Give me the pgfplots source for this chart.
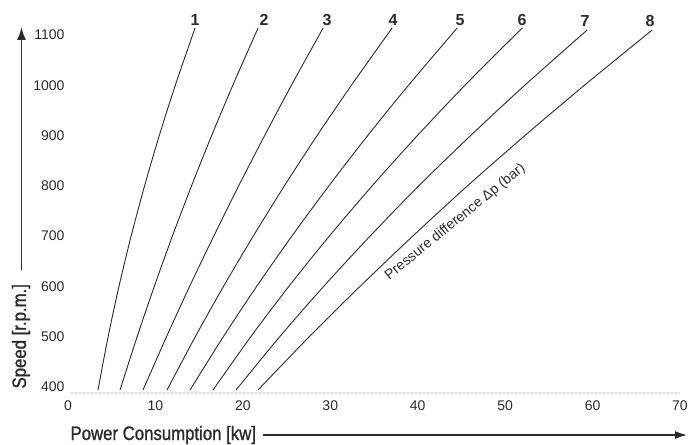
\documentclass[border=0pt]{standalone}
\usepackage{fontspec}
\setmainfont{Liberation Sans}
\newfontfamily\condfont{Liberation Sans}[FakeStretch=0.86, FakeBold=1.2]
\usepackage{pgfplots}
\pgfplotsset{compat=1.18}
\usetikzlibrary{arrows.meta}
\definecolor{ink}{HTML}{2B2B2B}
\definecolor{scan}{RGB}{216,224,238}
\tikzset{curvelabel/.style={pos=1, anchor=south, inner sep=2pt, text=ink,
    font=\bfseries\fontsize{16}{16}\selectfont}}
\pgfplotsset{pcurve/.style={ink, line width=0.9pt, smooth, no markers}}

\begin{document}
\begin{tikzpicture}
\path[use as bounding box] (-68pt,-48pt) rectangle (621pt,397pt);
\begin{axis}[
  at={(0,0)}, anchor=south west,
  width=612pt, height=372pt, scale only axis,
  xmin=0, xmax=70, ymin=380, ymax=1120,
  axis line style={draw=none},
  tick style={draw=none},
  xtick={0,10,...,70},
  ytick={400,500,...,1100},
  tick label style={font=\fontsize{14}{16}\selectfont, text=ink},
  /pgf/number format/assume math mode=true,
  /pgf/number format/1000 sep={},
  clip=false,
]
  % faint scan remnant of the baseline
  \draw[scan, line width=2.2pt, dash pattern=on 3pt off 1pt]
    (axis cs:0.3,388) -- (axis cs:70,388);

  % pressure difference 1
  \addplot[pcurve] coordinates {(3.43,394) (4.59,500) (5.83,600) (7.22,700) (8.76,800) (10.44,900) (12.27,1000) (14.53,1114)}
    node[curvelabel] {1};
  % 2
  \addplot[pcurve] coordinates {(5.95,394) (7.91,500) (9.87,600) (11.94,700) (14.13,800) (16.43,900) (18.85,1000) (21.74,1114)}
    node[curvelabel, xshift=6pt] {2};
  % 3
  \addplot[pcurve] coordinates {(8.58,394) (11.27,500) (13.91,600) (16.67,700) (19.52,800) (22.49,900) (25.55,1000) (29.18,1114)}
    node[curvelabel, xshift=4pt] {3};
  % 4
  \addplot[pcurve] coordinates {(11.33,394) (14.56,500) (17.79,600) (21.19,700) (24.75,800) (28.49,900) (32.41,1000) (37.07,1114)}
    node[curvelabel, xshift=1pt] {4};
  % 5
  \addplot[pcurve] coordinates {(13.96,394) (17.77,500) (21.58,600) (25.60,700) (29.84,800) (34.28,900) (38.94,1000) (44.51,1114)}
    node[curvelabel, xshift=3pt] {5};
  % 6
  \addplot[pcurve] coordinates {(16.59,394) (20.91,500) (25.26,600) (29.89,700) (34.79,800) (39.96,900) (45.40,1000) (51.95,1114)}
    node[curvelabel] {6};
  % 7
  \addplot[pcurve] coordinates {(19.22,394) (24.22,500) (29.24,600) (34.55,700) (40.12,800) (46.05,900) (52.24,1000) (59.38,1110)}
    node[curvelabel, xshift=-2pt, yshift=1pt] {7};
  % 8
  \addplot[pcurve] coordinates {(21.74,394) (27.60,500) (33.40,600) (39.43,700) (45.69,800) (52.26,900) (59.06,1000) (66.82,1110)}
    node[curvelabel, xshift=-2pt, yshift=1pt] {8};

  \node[rotate=39, text=ink, font=\fontsize{14}{14}\selectfont]
    at (axis cs:44.3,728) {Pressure difference Δp (bar)};
\end{axis}

\node[anchor=base west, text=ink, font=\condfont\fontsize{19.5}{20}\selectfont]
  at (-1pt,-43pt) {Power Consumption [kw]};
\draw[ink, line width=1.6pt, -{Latex[length=12pt,width=8pt]}] (195pt,-38pt) -- (619pt,-38pt);

\node[rotate=90, anchor=base west, text=ink, font=\condfont\fontsize{19.5}{20}\selectfont]
  at (-42pt,5pt) {Speed [r.p.m.]};
\draw[ink, line width=1.8pt, -{Latex[length=13pt,width=9pt]}] (-46.5pt,127pt) -- (-46.5pt,370pt);
\end{tikzpicture}
\end{document}
